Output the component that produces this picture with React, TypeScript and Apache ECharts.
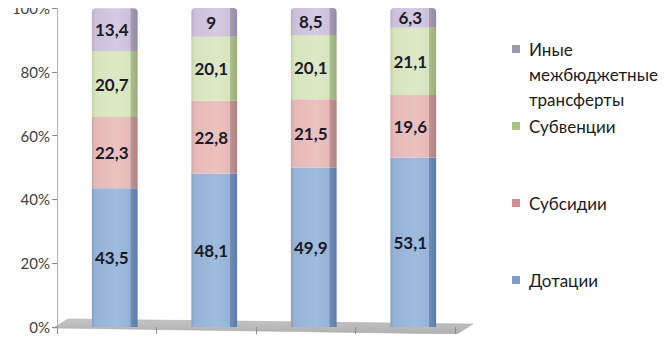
import React, { useEffect, useRef } from "react";
import * as echarts from "echarts";

const categories = ["1", "2", "3", "4"];
const dotacii = [43.5, 48.1, 49.9, 53.1];
const subsidii = [22.3, 22.8, 21.5, 19.6];
const subvencii = [20.7, 20.1, 20.1, 21.1];
const inye = [13.4, 9, 8.5, 6.3];
const yTicks = [0, 20, 40, 60, 80, 100];

const seriesNames = ["Дотации", "Субсидии", "Субвенции", "Иные межбюджетные трансферты"];

const FONT = "Lato, 'Noto Sans', sans-serif";

function grad(edge: string, base: string, light: string, side: string, sideDark: string) {
  return new echarts.graphic.LinearGradient(0, 0, 1, 0, [
    { offset: 0, color: edge },
    { offset: 0.08, color: base },
    { offset: 0.55, color: light },
    { offset: 0.84, color: base },
    { offset: 0.85, color: side },
    { offset: 1, color: sideDark },
  ]);
}

export default function App() {
  const ref = useRef<HTMLDivElement>(null);
  useEffect(() => {
    if (!ref.current) return;
    const chart = echarts.init(ref.current, undefined, { renderer: "svg" });
    const fmt = (p: any) => String(p.value).replace(".", ",");
    const label = {
      show: true,
      position: "inside",
      formatter: fmt,
      fontFamily: FONT,
      fontWeight: "bold",
      fontSize: 17,
      color: "#1a1a2a",
      offset: [-3, 0],
    };
    const colors = [
      grad("#859fc4", "#95b3d7", "#9fbbdd", "#6f8db5", "#5f7ca3"),
      grad("#d2a7a6", "#e6b9b8", "#ecc2c1", "#bf9594", "#ab8382"),
      grad("#c4d1aa", "#d7e4bd", "#dde9c6", "#adbe8f", "#9aab7d"),
      grad("#b9aec8", "#ccc1da", "#d4cae1", "#a59cb4", "#938aa3"),
    ];
    const datas = [dotacii, subsidii, subvencii, inye];
    const legendColors = ["#7d9cc8", "#cf8f8e", "#a9c47f", "#9e95b2"];
    const legendTops = [267.5, 190.5, 113.5, 36.5];
    const legends = seriesNames.map((n, i) => ({
      show: true,
      orient: "vertical",
      left: 512,
      top: legendTops[i],
      padding: 0,
      itemWidth: 12,
      itemHeight: i === 3 ? 58 : 8,
      icon:
        i === 3
          ? "path://M0,0H8V8H0Z M11.9,57.9H12V58H11.9Z"
          : "path://M0,0H8V8H0Z M11.9,7.9H12V8H11.9Z",
      selectedMode: false,
      formatter: i === 3 ? "Иные\nмежбюджетные\nтрансферты" : "{name}",
      textStyle: { fontFamily: FONT, fontSize: 17, lineHeight: 25, color: "#1a1a1a" },
      data: [{ name: n, itemStyle: { color: legendColors[i] } }],
    }));
    chart.setOption({
      animation: false,
      grid: [
        { left: 57, width: 398, top: 8, bottom: 15 },
        { left: 65, width: 398, top: 8, bottom: 15 },
      ],
      legend: legends,
      xAxis: [
        {
          type: "category",
          gridIndex: 0,
          data: categories,
          offset: 2,
          axisLine: { show: false },
          axisTick: { show: true, length: 7, lineStyle: { color: "#8c8c8c" } },
          axisLabel: { show: false },
        },
        {
          type: "category",
          gridIndex: 1,
          data: categories,
          axisLine: { show: false },
          axisTick: { show: false },
          axisLabel: { show: false },
        },
      ],
      yAxis: [
        {
          type: "value",
          gridIndex: 0,
          min: yTicks[0],
          max: yTicks[yTicks.length - 1],
          interval: 20,
          axisLine: { show: true, lineStyle: { color: "#b0b0b0" } },
          axisTick: { show: true, length: 5, lineStyle: { color: "#8c8c8c" } },
          splitLine: { show: false },
          axisLabel: {
            formatter: "{value}%",
            fontFamily: FONT,
            fontSize: 15,
            color: "#404040",
            margin: 7,
          },
        },
        {
          type: "value",
          gridIndex: 1,
          min: 0,
          max: 100,
          show: false,
        },
      ],
      graphic: [
        {
          type: "polygon",
          z: -1,
          shape: {
            points: [
              [53, 328],
              [68, 319],
              [473, 324],
              [457, 334],
            ],
          },
          style: {
            fill: new echarts.graphic.LinearGradient(0, 0, 0, 1, [
              { offset: 0, color: "#c4c4c4" },
              { offset: 1, color: "#b0b0b0" },
            ]),
            stroke: "#a8a8a8",
            lineWidth: 0.5,
          },
        },
      ],
      series: datas.map((d, i) => ({
        name: seriesNames[i],
        type: "bar",
        stack: "total",
        xAxisIndex: 1,
        yAxisIndex: 1,
        barWidth: "46%",
        data: d,
        label,
        itemStyle: {
          color: colors[i],
          borderRadius: i === 3 ? [4, 4, 0, 0] : 0,
        },
      })),
    });
    return () => chart.dispose();
  }, []);
  return <div ref={ref} style={{ width: 670, height: 342, margin: -8 }} />;
}
